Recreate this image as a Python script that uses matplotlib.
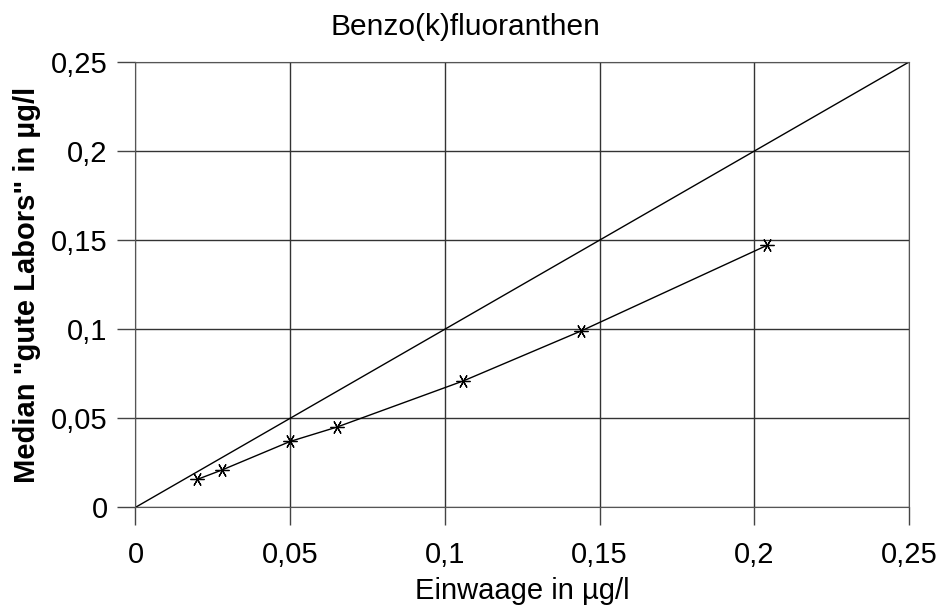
import matplotlib
matplotlib.use("Agg")
import matplotlib.pyplot as plt

plt.rcParams['font.family'] = ['Liberation Sans', 'DejaVu Sans']

# Messwerte
einwaage = [0.020, 0.028, 0.050, 0.065, 0.106, 0.144, 0.204]
median = [0.0157, 0.021, 0.037, 0.045, 0.071, 0.099, 0.147]
ideal = [0, 0.25]

ticks = [0, 0.05, 0.1, 0.15, 0.2, 0.25]
tick_labels = ["0", "0,05", "0,1", "0,15", "0,2", "0,25"]

fig = plt.figure(figsize=(9.42, 6.12), dpi=100)
ax = fig.add_axes([0.1438, 0.171, 0.8212, 0.7277])

ax.plot(ideal, ideal, color='black', lw=1.0)
ax.plot(einwaage, median, color='black', lw=1.0,
        marker=(6, 2, 90), markersize=10, markeredgewidth=0.9)

ax.set_xlim(0, 0.25)
ax.set_ylim(0, 0.25)
ax.set_xticks(ticks)
ax.set_xticklabels(tick_labels)
ax.set_yticks(ticks)
ax.set_yticklabels(tick_labels)
ax.tick_params(labelsize=21, length=13, width=1.0, color='#444444')
ax.tick_params(axis='x', pad=11)
ax.tick_params(axis='y', pad=7)
ax.grid(True, color='#333333', lw=1.0)
for s in ax.spines.values():
    s.set_color('#555555')

ax.set_xlabel('Einwaage in µg/l', fontsize=21, labelpad=6)
ax.set_ylabel('Median "gute Labors" in µg/l', fontsize=21, fontweight='bold', labelpad=7)
# Titel ist auf die Abbildung zentriert, nicht auf die Achse
fig.text(0.494, 1 - 27 / 612, 'Benzo(k)fluoranthen', fontsize=21.5,
         ha='center', va='center')

fig.savefig('out.png', dpi=100)
